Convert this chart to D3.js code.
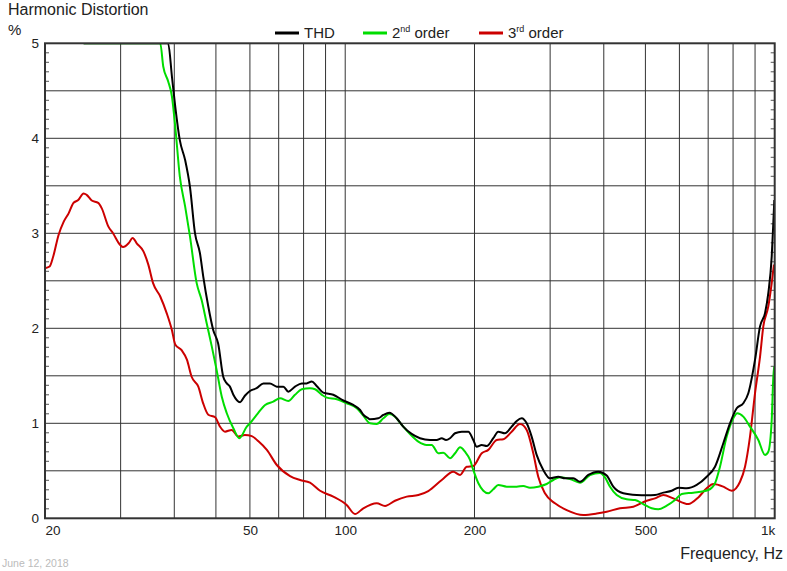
<!DOCTYPE html>
<html><head><meta charset="utf-8">
<script src="https://cdn.jsdelivr.net/npm/d3@7/dist/d3.min.js"></script>
<style>body{margin:0;background:#fff} svg{display:block;font-family:"Liberation Sans",Arial,sans-serif}</style>
</head><body><svg id="c" width="787" height="571"></svg>
<script>
// ---- data ----
const thdFreq = [24.6,38.7,39.5,40.2,41.2,42.4,43.5,44.7,45.9,46.7,48.0,49.3,50.6,52.0,53.0,53.9,54.9,56.9,58.4,60.0,62.2,64.5,66.8,69.3,71.8,73.7,76.4,79.2,81.3,83.6,85.8,88.9,93.8,99.0,104.4,108.3,110.2,113.2,114.2,119.4,122.7,126.7,131.8,136.5,142.8,149.3,157.6,163.3,167.8,171.7,175.4,180.2,186.8,193.5,198.7,202.4,207.9,213.6,221.2,227.2,235.5,244.1,250.8,257.6,264.6,271.7,279.1,289.2,299.8,313.4,324.9,339.7,352.1,368.1,388.4,406.3,420.9,444.2,477.2,503.5,526.4,550.4,575.7,596.5,623.9,658.3,694.5,726.1,759.2,786.9,815.7,845.1,868.1,899.8,924.3,949.4,966.3,984.1,992.6,997.9];
const thdVals = [5,5,4.65,4.335,3.98,3.77,3.49,3.0,2.79,2.55,2.23,1.98,1.84,1.49,1.42,1.386,1.3,1.222,1.29,1.34,1.369,1.42,1.42,1.386,1.386,1.333,1.386,1.42,1.42,1.44,1.393,1.323,1.3,1.24,1.193,1.14,1.09,1.053,1.042,1.053,1.088,1.112,1.053,0.965,0.888,0.843,0.825,0.825,0.843,0.825,0.843,0.895,0.912,0.912,0.825,0.754,0.772,0.761,0.843,0.912,0.895,0.965,1.025,1.053,1.0,0.86,0.667,0.509,0.421,0.438,0.421,0.421,0.385,0.456,0.491,0.45,0.333,0.263,0.245,0.242,0.245,0.27,0.29,0.322,0.316,0.351,0.438,0.543,0.79,1.0,1.158,1.211,1.316,1.667,2.02,2.16,2.37,2.755,3.107,3.35];

const h2Freq = [24.6,37.1,37.7,38.7,39.5,40.2,41.2,42.4,43.5,45.1,46.3,47.6,48.9,50.2,51.6,53.0,54.9,56.7,59.0,60.0,62.2,65.1,68.0,70.5,73.7,76.4,79.2,82.8,85.1,88.2,90.6,95.6,100.8,106.4,110.2,114.2,118.4,122.7,126.7,130.6,135.4,141.5,148.0,154.8,159.0,164.7,169.2,175.4,180.2,185.1,190.1,195.3,198.7,204.2,209.7,215.4,221.2,227.2,237.7,250.8,259.8,269.3,281.5,294.5,305.1,316.3,333.7,352.1,371.5,392.0,402.6,413.6,428.7,452.3,472.9,494.4,517.2,535.8,560.5,586.0,607.4,646.4,700.5,726.1,745.8,773.1,801.0,818.4,845.1,876.0,915.9,949.4,966.3,984.1,992.6,997.9];
const h2Vals = [5,5,4.756,4.6,4.44,4.124,3.6,3.28,2.97,2.475,2.3,2.05,1.81,1.56,1.28,1.106,0.948,0.843,0.965,1.0,1.088,1.193,1.228,1.264,1.235,1.3,1.358,1.369,1.358,1.3,1.27,1.253,1.211,1.158,1.08,1.0,0.993,1.053,1.098,1.07,0.983,0.888,0.807,0.772,0.772,0.685,0.691,0.632,0.685,0.748,0.701,0.614,0.509,0.369,0.29,0.263,0.305,0.351,0.333,0.333,0.34,0.322,0.333,0.361,0.403,0.432,0.414,0.374,0.456,0.477,0.43,0.333,0.245,0.2,0.193,0.15,0.105,0.095,0.133,0.193,0.256,0.27,0.298,0.369,0.543,0.86,1.053,1.106,1.07,0.965,0.825,0.667,0.701,1.035,1.49,1.6];

const h3Freq = [20,20.5,20.9,21.5,22.1,22.7,23.3,23.9,24.6,25.0,25.7,26.6,27.1,28.1,28.8,29.9,30.4,31.3,32.0,32.7,33.9,34.8,35.7,37.1,38.4,39.5,40.2,41.6,42.8,43.9,45.5,46.7,48.0,49.8,51.1,52.5,54.4,56.4,58.4,60.6,62.8,65.7,69.3,74.4,78.5,82.8,87.4,93.8,100.8,105.4,110.2,118.4,123.8,130.6,139.1,148.0,156.1,167.8,178.5,185.1,191.8,198.7,207.9,215.4,225.3,233.4,244.1,255.2,264.6,274.1,281.5,291.8,307.9,327.9,358.4,385.1,406.3,436.3,468.6,503.5,526.4,550.4,580.7,629.3,664.0,694.5,719.5,759.2,794.1,830.4,852.9,876.0,899.8,924.3,940.8,966.3,984.1,996];
const h3Vals = [2.633,2.65,2.755,2.98,3.12,3.21,3.32,3.35,3.42,3.405,3.345,3.32,3.265,3.07,3.0,2.88,2.855,2.895,2.95,2.895,2.81,2.67,2.475,2.335,2.16,1.98,1.83,1.77,1.67,1.49,1.385,1.21,1.09,1.063,0.965,0.912,0.93,0.86,0.877,0.865,0.81,0.72,0.561,0.445,0.403,0.375,0.29,0.228,0.14,0.045,0.105,0.158,0.13,0.185,0.228,0.245,0.287,0.403,0.49,0.456,0.543,0.55,0.685,0.72,0.825,0.832,0.912,0.993,0.93,0.685,0.438,0.263,0.158,0.087,0.035,0.05,0.07,0.105,0.122,0.185,0.21,0.245,0.21,0.15,0.22,0.316,0.36,0.333,0.29,0.385,0.543,0.86,1.316,1.7,2.02,2.23,2.475,2.67];

const seriesNames = ["THD", "2nd order", "3rd order"];
const seriesColors = ["#000000", "#00dd00", "#cc0000"];

const xGridValues = [30,40,50,60,70,80,90,100,200,300,400,500,600,700,800,900];
const xLabelAt = [20, 60, 100, 200, 500, 1000];
const xLabels = ["20", "50", "100", "200", "500", "1k"];
const yTickValues = [0,1,2,3,4,5];
const yGridValues = [0.5,1,1.5,2,2.5,3,3.5,4,4.5];

// ---- chart ----
const W = 787, H = 571;
const m = {l: 45, r: 12.3, t: 43.3, b: 52.7};
const svg = d3.select("#c");
const x = d3.scaleLog().domain([20, 1000]).range([m.l, W - m.r]);
const y = d3.scaleLinear().domain([0, 5]).range([H - m.b, m.t]);

svg.append("defs").append("clipPath").attr("id","clip")
  .append("rect").attr("x", m.l).attr("y", m.t).attr("width", W - m.l - m.r).attr("height", H - m.t - m.b);

const grid = svg.append("g");
grid.selectAll("line.v").data(xGridValues).join("line").attr("class","v")
  .attr("x1", d => x(d)).attr("x2", d => x(d)).attr("y1", y(0)).attr("y2", y(5))
  .attr("stroke", "#333").attr("stroke-width", 1);
grid.selectAll("line.h").data(yGridValues).join("line").attr("class","h")
  .attr("x1", x(20)).attr("x2", x(1000)).attr("y1", d => y(d)).attr("y2", d => y(d))
  .attr("stroke", "#333").attr("stroke-width", 1);

// minor ticks every 0.1 on both sides
const minor = d3.range(1, 50).map(i => i / 10).filter((d, i) => (i + 1) % 5 !== 0);
grid.selectAll("line.ml").data(minor).join("line").attr("class","ml")
  .attr("x1", x(20)).attr("x2", x(20) + 4).attr("y1", d => y(d)).attr("y2", d => y(d))
  .attr("stroke", "#555").attr("stroke-width", 1);
grid.selectAll("line.mr").data(minor).join("line").attr("class","mr")
  .attr("x1", x(1000) - 4).attr("x2", x(1000)).attr("y1", d => y(d)).attr("y2", d => y(d))
  .attr("stroke", "#555").attr("stroke-width", 1);

const line = d3.line().x(d => x(d[0])).y(d => y(d[1])).curve(d3.curveMonotoneX);
const series = [
  {f: h3Freq, v: h3Vals, c: seriesColors[2]},
  {f: h2Freq, v: h2Vals, c: seriesColors[1]},
  {f: thdFreq, v: thdVals, c: seriesColors[0]}
];
const plot = svg.append("g").attr("clip-path", "url(#clip)");
series.forEach(s => {
  plot.append("path").datum(s.f.map((f, i) => [f, s.v[i]]))
    .attr("d", line).attr("fill", "none").attr("stroke", s.c).attr("stroke-width", 2)
    .attr("stroke-linejoin", "round");
});

// frame
svg.append("rect").attr("x", x(20)).attr("y", y(5)).attr("width", x(1000) - x(20)).attr("height", y(0) - y(5))
  .attr("fill", "none").attr("stroke", "#333").attr("stroke-width", 2);

// y axis labels
const yAxis = svg.append("g").attr("transform", `translate(${x(20)},0)`)
  .call(d3.axisLeft(y).tickValues(yTickValues).tickSize(0).tickPadding(6).tickFormat(d3.format("d")));
yAxis.select(".domain").remove();
yAxis.selectAll("text").attr("font-size", 13.5).attr("fill", "#222").attr("font-family", "Liberation Sans, Arial, sans-serif");

// x axis labels
const xAxis = svg.append("g").attr("transform", `translate(0,${y(0)})`)
  .call(d3.axisBottom(x).tickValues(xLabelAt).tickSize(0).tickPadding(7).tickFormat((d, i) => xLabels[i]));
xAxis.select(".domain").remove();
xAxis.selectAll("text").attr("font-size", 13.5).attr("fill", "#222").attr("font-family", "Liberation Sans, Arial, sans-serif")
  .attr("text-anchor", (d, i) => i === 0 ? "start" : (i === xLabels.length - 1 ? "end" : "middle"));

// titles
svg.append("text").attr("x", 8).attr("y", 15).attr("font-size", 16).attr("fill", "#222").text("Harmonic Distortion");
svg.append("text").attr("x", 8).attr("y", 35).attr("font-size", 15).attr("fill", "#222").text("%");
svg.append("text").attr("x", 783).attr("y", 559).attr("text-anchor", "end").attr("font-size", 16).attr("fill", "#222").text("Frequency, Hz");
svg.append("text").attr("x", 2).attr("y", 567).attr("font-size", 10.5).attr("fill", "#bbb").text("June 12, 2018");

// legend
const legX = [275, 363, 479];
const lg = svg.append("g");
seriesNames.forEach((n, i) => {
  lg.append("line").attr("x1", legX[i]).attr("x2", legX[i] + 24).attr("y1", 33).attr("y2", 33)
    .attr("stroke", seriesColors[i]).attr("stroke-width", 3);
  const t = lg.append("text").attr("x", legX[i] + 29).attr("y", 38).attr("font-size", 15).attr("fill", "#222");
  if (i === 0) t.text(n);
  else {
    const parts = n.match(/^(\d)(\w\w) (.*)$/);
    t.append("tspan").text(parts[1]);
    t.append("tspan").attr("font-size", 9).attr("dy", -6).text(parts[2]);
    t.append("tspan").attr("dy", 6).text(" " + parts[3]);
  }
});
</script></body></html>
